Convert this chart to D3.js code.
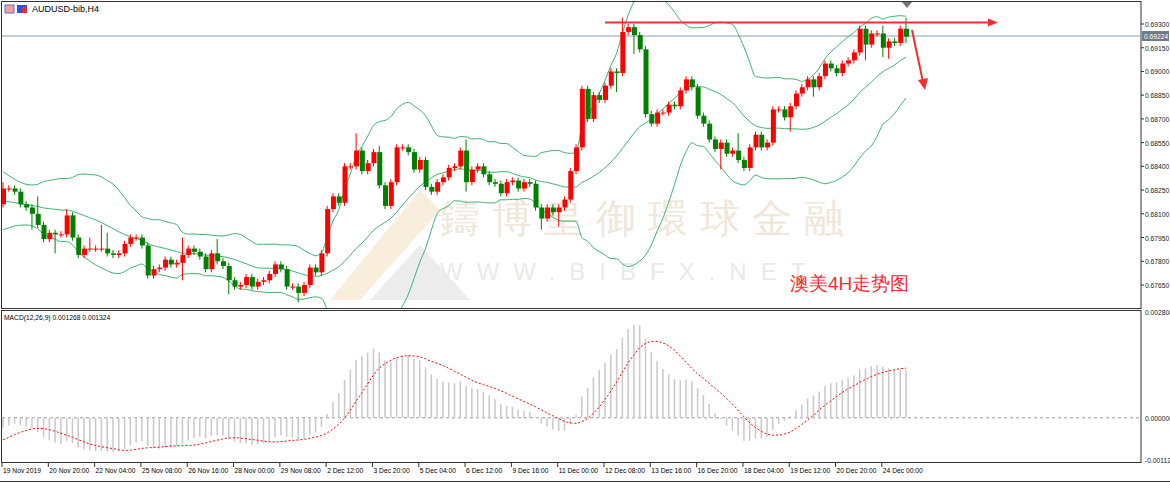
<!DOCTYPE html>
<html><head><meta charset="utf-8">
<script src="https://cdn.jsdelivr.net/npm/d3@7"></script>
<style>body{margin:0;background:#fff}svg{display:block}text{font-family:"Liberation Sans",Arial,sans-serif}</style>
</head><body><svg id="c"></svg>
<script>
// AUDUSD H4 closes, earlier bars only feed the indicators
const warmup = [0.6838,0.6835,0.6830,0.6826,0.6820,0.6816,0.6812,0.6808,0.6805,0.6806,0.6810,0.6808,0.6812,0.6815,0.6818,0.6814,0.6820,0.6824,0.6822];
const firstOpen = 0.6816;
const closes = [
0.6826,0.6826,0.6824,0.6816,0.6814,0.6810,0.6803,0.6794,0.6798,0.6797,
0.6797,0.6809,0.6795,0.6784,0.6788,0.6788,0.6788,0.6788,0.6785,0.6784,
0.6785,0.6791,0.6795,0.6795,0.6790,0.6771,0.6775,0.6776,0.6781,0.6778,
0.6779,0.6784,0.6788,0.6786,0.6783,0.6775,0.6785,0.6780,0.6777,0.6768,
0.6764,0.6765,0.6770,0.6764,0.6767,0.6768,0.6772,0.6778,0.6775,0.6764,
0.6764,0.6760,0.6765,0.6776,0.6773,0.6785,0.6813,0.6821,0.6817,0.6840,
0.6840,0.6850,0.6837,0.6842,0.6849,0.6828,0.6815,0.6830,0.6852,0.6852,
0.6849,0.6838,0.6844,0.6827,0.6824,0.6830,0.6833,0.6839,0.6840,0.6850,
0.6830,0.6838,0.6840,0.6835,0.6830,0.6829,0.6823,0.6830,0.6831,0.6826,
0.6830,0.6829,0.6814,0.6807,0.6814,0.6811,0.6814,0.6819,0.6837,0.6852,
0.6889,0.6870,0.6885,0.6882,0.6891,0.6900,0.6899,0.6925,0.6928,0.6923,
0.6914,0.6873,0.6867,0.6874,0.6874,0.6879,0.6878,0.6888,0.6895,0.6890,
0.6872,0.6867,0.6857,0.6851,0.6855,0.6848,0.6850,0.6844,0.6839,0.6852,
0.6860,0.6852,0.6855,0.6876,0.6876,0.6871,0.6878,0.6886,0.6890,0.6895,
0.6890,0.6897,0.6905,0.6902,0.6899,0.6905,0.6907,0.6912,0.6927,0.6917,
0.6924,0.6924,0.6915,0.6919,0.6918,0.6927,0.6922];
// wick lengths in pips: default, plus the long ones seen in the picture [index, up, down]
const wickDefault = 2;
const longWicks = [[0,4,2],[5,2,10],[6,11,2],[9,2,12],[11,4,2],[15,7,2],[17,15,2],[18,10,2],[31,11,11],
  [37,9,2],[39,2,9],[51,2,6],[61,11,2],[65,4,2],[80,7,6],[93,2,7],[96,2,9],[106,2,12],[107,9,2],
  [109,2,12],[124,2,13],[127,11,2],[136,2,9],[140,2,6],[149,2,10],[152,5,6],[153,2,7],[156,7,4]];
const timeLabels = ["19 Nov 2019","20 Nov 20:00","22 Nov 04:00","25 Nov 08:00","26 Nov 16:00","28 Nov 00:00",
  "29 Nov 08:00","2 Dec 12:00","3 Dec 20:00","5 Dec 04:00","6 Dec 12:00","9 Dec 16:00","11 Dec 00:00",
  "12 Dec 08:00","13 Dec 16:00","16 Dec 20:00","18 Dec 04:00","19 Dec 12:00","20 Dec 20:00","24 Dec 00:00"];
const priceTicks = [0.69300,0.69150,0.69000,0.68850,0.68700,0.68550,0.68400,0.68250,0.68100,0.67950,0.67800,0.67650];
const bid = 0.69224;
const resistance = 0.6931;

const W = 1170, H = 483, R = 1141;
const svg = d3.select('#c').attr('width', W).attr('height', H);
svg.append('clipPath').attr('id', 'mainClip').append('rect').attr('x', 2).attr('y', 2).attr('width', R - 2).attr('height', 306);

// build candles
const wk = new Map(longWicks.map(d => [d[0], d]));
const candles = closes.map((c, i) => {
  const o = i === 0 ? firstOpen : closes[i - 1];
  const w = wk.get(i) || [i, wickDefault, wickDefault];
  return { i, o, c, h: Math.max(o, c) + w[1] / 1e4, l: Math.min(o, c) - w[2] / 1e4 };
});

// indicators on warmup + closes
const all = warmup.concat(closes), off = warmup.length;
const bands = closes.map((c, i) => {
  const win = all.slice(i + off - 19, i + off + 1);
  const m = d3.mean(win), s = Math.sqrt(d3.mean(win, v => (v - m) ** 2));
  return { i, m, u: m + 2 * s, d: m - 2 * s };
});
function ema(arr, n) { const k = 2 / (n + 1); let e = arr[0]; return arr.map(v => (e = v * k + e * (1 - k))); }
const e12 = ema(all, 12), e26 = ema(all, 26);
const macdAll = all.map((v, i) => e12[i] - e26[i]);
const macd = closes.map((c, i) => {
  const j = i + off;
  return { i, v: macdAll[j], s: d3.mean(macdAll.slice(Math.max(0, j - 8), j + 1)) };
});

const x = d3.scaleLinear().domain([0, 156]).range([3, 906]);
const y = d3.scaleLinear().domain([0.6930, 0.6765]).range([24, 285]);
const ym = d3.scaleLinear().domain([0.002808, -0.00112]).range([312, 460]);

// small text squeezed horizontally like the terminal's narrow font
const small = (g, tx, ty, t, fill) => g.append('text')
  .attr('transform', `translate(${tx},${ty}) scale(0.84,1)`).attr('font-size', 8).attr('fill', fill || '#222').text(t);

// frames
svg.append('rect').attr('x', 1.5).attr('y', 1.5).attr('width', R - 1.5).attr('height', 307).attr('fill', 'none').attr('stroke', '#333');
svg.append('rect').attr('x', 1.5).attr('y', 310.5).attr('width', R - 1.5).attr('height', 152).attr('fill', 'none').attr('stroke', '#333');
svg.append('line').attr('x1', 0).attr('x2', W).attr('y1', 481.5).attr('y2', 481.5).attr('stroke', '#333');

// watermark
const wm = svg.append('g').attr('opacity', 0.18);
wm.append('path').attr('d', 'M330,300 L420,190 L440,210 L360,300 Z').attr('fill', '#e0a040');
wm.append('path').attr('d', 'M370,300 L420,245 L470,300 Z').attr('fill', '#999');
wm.append('text').attr('x', 440).attr('y', 232).attr('font-size', 40).attr('fill', '#b08040')
  .attr('font-family', 'Noto Sans CJK TC').attr('letter-spacing', 12).text('鑄博皇御環球金融');
wm.append('text').attr('x', 440).attr('y', 280).attr('font-size', 24).attr('fill', '#888')
  .attr('letter-spacing', 14).text('WWW.BIBFX.NET');

// bid line
svg.append('line').attr('x1', 2).attr('x2', R).attr('y1', y(bid)).attr('y2', y(bid)).attr('stroke', '#8aa0a8');

// bollinger
const main = svg.append('g').attr('clip-path', 'url(#mainClip)');
const bandLine = k => d3.line().x(d => x(d.i)).y(d => y(d[k])).curve(d3.curveMonotoneX);
['u', 'm', 'd'].forEach(k => main.append('path').datum(bands).attr('d', bandLine(k))
  .attr('fill', 'none').attr('stroke', '#3cb371').attr('stroke-width', 1));

// candles
candles.forEach(d => {
  const col = d.c >= d.o ? '#ff0000' : '#008000';
  main.append('line').attr('x1', x(d.i)).attr('x2', x(d.i)).attr('y1', y(d.h)).attr('y2', y(d.l)).attr('stroke', col);
  const top = y(Math.max(d.o, d.c)), bot = y(Math.min(d.o, d.c));
  main.append('rect').attr('x', x(d.i) - 2).attr('width', 5).attr('y', top).attr('height', Math.max(1, bot - top)).attr('fill', col);
});

// annotations
svg.append('line').attr('x1', 605).attr('x2', 990).attr('y1', y(resistance)).attr('y2', y(resistance)).attr('stroke', '#f03030').attr('stroke-width', 2);
svg.append('path').attr('d', `M988,${y(resistance) - 4} L998,${y(resistance)} L988,${y(resistance) + 4} Z`).attr('fill', '#f03030');
svg.append('line').attr('x1', 912).attr('y1', 30).attr('x2', 923).attr('y2', 82).attr('stroke', '#f03030').attr('stroke-width', 2);
svg.append('path').attr('d', 'M918,80 L925,90 L928,78 Z').attr('fill', '#f03030');
svg.append('path').attr('d', 'M902,2 L912,2 L907,8 Z').attr('fill', '#777');
svg.append('text').attr('x', 790).attr('y', 290).attr('font-size', 19).attr('fill', '#f03030')
  .attr('font-family', 'Noto Sans CJK SC').text('澳美4H走势图');

// title
svg.append('rect').attr('x', 5).attr('y', 5).attr('width', 9).attr('height', 8).attr('fill', '#f4a0a0').attr('stroke', '#6070c0');
svg.append('rect').attr('x', 17).attr('y', 5).attr('width', 10).attr('height', 8).attr('fill', '#3050e0');
svg.append('rect').attr('x', 22).attr('y', 7).attr('width', 5).attr('height', 6).attr('fill', '#e03030');
svg.append('text').attr('x', 32).attr('y', 12).attr('font-size', 9).attr('fill', '#000').text('AUDUSD-bib,H4');

// price axis
const pa = svg.append('g');
priceTicks.forEach(p => {
  pa.append('line').attr('x1', R).attr('x2', R + 3).attr('y1', y(p)).attr('y2', y(p)).attr('stroke', '#333');
  small(pa, R + 4, y(p) + 3, p.toFixed(5));
});
pa.append('rect').attr('x', R + 1).attr('y', y(bid) - 5).attr('width', 27).attr('height', 10).attr('fill', '#6c7c8c');
small(pa, R + 3, y(bid) + 3, bid.toFixed(5), '#fff');

// MACD
small(svg, 4, 320, 'MACD(12,26,9) 0.001268 0.001324', '#000');
svg.append('line').attr('x1', 2).attr('x2', R).attr('y1', ym(0)).attr('y2', ym(0)).attr('stroke', '#999').attr('stroke-dasharray', '3,3');
svg.append('g').selectAll('line').data(macd).join('line')
  .attr('x1', d => x(d.i)).attr('x2', d => x(d.i)).attr('y1', ym(0)).attr('y2', d => ym(d.v))
  .attr('stroke', '#c8c8c8').attr('stroke-width', 1.5);
svg.append('path').datum(macd).attr('d', d3.line().x(d => x(d.i)).y(d => ym(d.s)).curve(d3.curveMonotoneX))
  .attr('fill', 'none').attr('stroke', '#ff0000').attr('stroke-dasharray', '2,2');
[[0.002808, '0.002808'], [0, '0.000000'], [-0.00112, '-0.00112']].forEach(([v, t]) => small(svg, R + 4, ym(v) + 3, t));

// time axis
timeLabels.forEach((t, k) => {
  const xi = x(k * 8) - 1;
  svg.append('line').attr('x1', xi).attr('x2', xi).attr('y1', 462).attr('y2', 467).attr('stroke', '#333');
  small(svg, xi + 1, 473, t, '#000');
});
</script></body></html>
